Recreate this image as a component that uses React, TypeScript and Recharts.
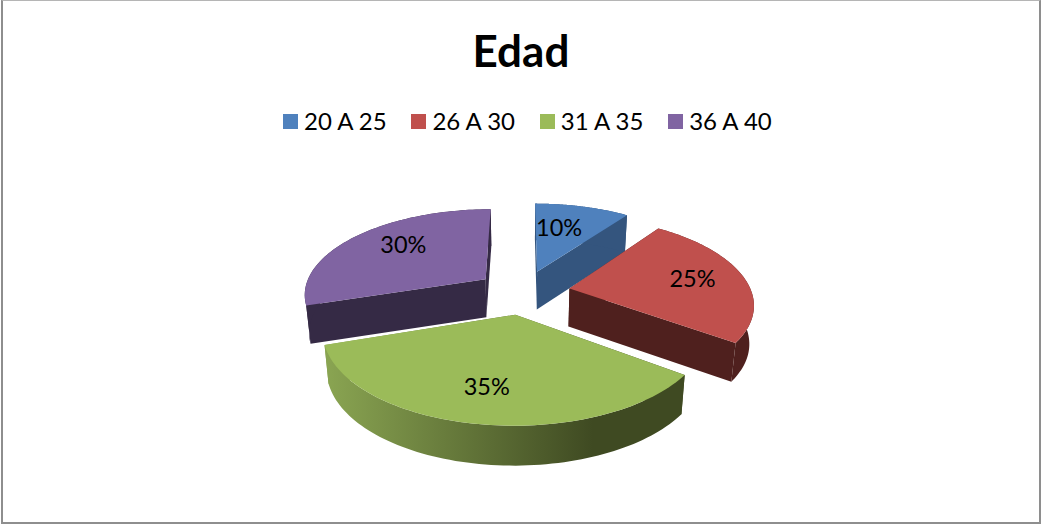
import React from "react";
import { PieChart, Pie, Legend } from "recharts";

const categories = ["20 A 25", "26 A 30", "31 A 35", "36 A 40"];
const values = [10, 25, 35, 30];
const colors = ["#4f81bd", "#c0504d", "#9bbb59", "#8064a2"];
const wallColors = ["#34557e", "#4f201e", "url(#greenWall)", "#352a45"];
const labelNudges = [[-11, 3], [1, -2], [-4, -1], [10, -4]];
const drawOrder = [3, 0, 1, 2];
const rows = drawOrder.map((i) => ({
  name: categories[i],
  value: values[i],
  fill: colors[i],
  wall: wallColors[i],
  nudge: labelNudges[i],
}));

const W = 1042;
const H = 525;
const CX = 523;
const CY = 292;
const RX = 182;
const SQUASH = 85 / 182;
const EXPLODE_X = 0.26;
const EXPLODE_Y = 0.26;
const PERSP = 0.16;
const DEPTH = 38;

type Pt = { x: number; y: number };
const dir = (t: number) => ({ u: Math.sin(t), v: Math.cos(t) });
const toT = (deg: number) => ((90 - deg) * Math.PI) / 180;

function project(cx: number, cy: number, rx: number, mid: number, r: number, t: number, low = false): Pt {
  const m = dir(mid);
  const d = dir(t);
  const u = EXPLODE_X * m.u + r * d.u;
  const v = EXPLODE_Y * m.v + r * d.v;
  const s = 1 / (1 + PERSP * v);
  const x = rx * u * s;
  const y = -rx * SQUASH * v * s;
  return low
    ? { x: cx + x * 0.98, y: cy + y + DEPTH * (1 + 0.2 * (s - 1)) }
    : { x: cx + x, y: cy + y };
}

const path = (pts: Pt[]) =>
  "M" + pts.map((p) => `${p.x.toFixed(2)},${p.y.toFixed(2)}`).join("L") + "Z";

function Slice3D(props: any) {
  const { cx, cy, outerRadius, startAngle, endAngle, fill, wall } = props;
  const t0 = toT(startAngle);
  const t1 = toT(endAngle);
  const mid = (t0 + t1) / 2;
  const n = 80;
  const arc: number[] = [];
  for (let i = 0; i <= n; i++) arc.push(t0 + ((t1 - t0) * i) / n);
  const P = (r: number, t: number, low = false) => project(cx, cy, outerRadius, mid, r, t, low);
  const top = [P(0, mid), ...arc.map((t) => P(1, t))];
  const outer = [...arc.map((t) => P(1, t)), ...[...arc].reverse().map((t) => P(1, t, true))];
  const cut = (t: number) => [P(0, mid), P(1, t), P(1, t, true), P(0, mid, true)];
  return (
    <g>
      <path d={path(cut(t0))} fill={wall} />
      <path d={path(cut(t1))} fill={wall} />
      <path d={path(outer)} fill={wall} />
      <path d={path(top)} fill={fill} />
    </g>
  );
}

function PctLabel(props: any) {
  const { cx, cy, outerRadius, midAngle, value, payload } = props;
  const mid = toT(midAngle);
  const p = project(cx, cy, outerRadius, mid, 0.7, mid);
  const nudge = (payload && payload.nudge) || props.nudge || [0, 0];
  return (
    <text
      x={p.x + nudge[0]}
      y={p.y + nudge[1]}
      textAnchor="middle"
      dominantBaseline="central"
      fontFamily="Lato"
      fontSize={23.5}
      fill="#000"
    >
      {value}%
    </text>
  );
}

function LegendBox(props: any) {
  const items = [...(props.payload || [])].sort(
    (a: any, b: any) => categories.indexOf(a.value) - categories.indexOf(b.value)
  );
  return (
    <div style={{ display: "flex", fontFamily: "Lato", fontSize: 24, lineHeight: "30px", color: "#000" }}>
      {items.map((it: any) => (
        <div key={it.value} style={{ width: 128.4, display: "flex", alignItems: "center", whiteSpace: "nowrap" }}>
          <span style={{ width: 15, height: 15, background: it.color, marginRight: 6, display: "inline-block" }} />
          {it.value}
        </div>
      ))}
    </div>
  );
}

export default function App() {
  return (
    <div style={{ position: "absolute", left: 0, top: 0, width: W, height: H, background: "#fff" }}>
      <div
        style={{
          position: "absolute",
          left: 1,
          top: 0,
          width: 1040,
          height: 524,
          boxSizing: "border-box",
          borderLeft: "2px solid #8e8e8e",
          borderRight: "2px solid #8e8e8e",
          borderBottom: "2px solid #8e8e8e",
          borderTop: "1px solid #b5b5b5",
        }}
      />
      <div
        style={{
          position: "absolute",
          left: 0,
          width: W,
          top: 23,
          textAlign: "center",
          fontFamily: "Lato",
          fontWeight: 700,
          fontSize: 44,
          lineHeight: "54px",
          color: "#000",
        }}
      >
        Edad
      </div>
      <div style={{ position: "absolute", left: 0, top: 0 }}>
        <PieChart width={W} height={H} margin={{ top: 0, right: 0, bottom: 0, left: 0 }}>
          <defs>
            <linearGradient id="greenWall" gradientUnits="userSpaceOnUse" x1={325} x2={593} y1={0} y2={0}>
              <stop offset="0" stopColor="#8aa552" />
              <stop offset="1" stopColor="#3f4a22" />
            </linearGradient>
          </defs>
          <Legend
            content={<LegendBox />}
            wrapperStyle={{ position: "absolute", left: 283, top: 106, width: 520, bottom: "auto" }}
          />
          <Pie
            data={rows}
            dataKey="value"
            nameKey="name"
            cx={CX}
            cy={CY}
            outerRadius={RX}
            startAngle={-162}
            endAngle={-522}
            paddingAngle={0}
            stroke="none"
            labelLine={false}
            label={<PctLabel />}
            shape={<Slice3D />}
            isAnimationActive={false}
          />
        </PieChart>
      </div>
    </div>
  );
}
